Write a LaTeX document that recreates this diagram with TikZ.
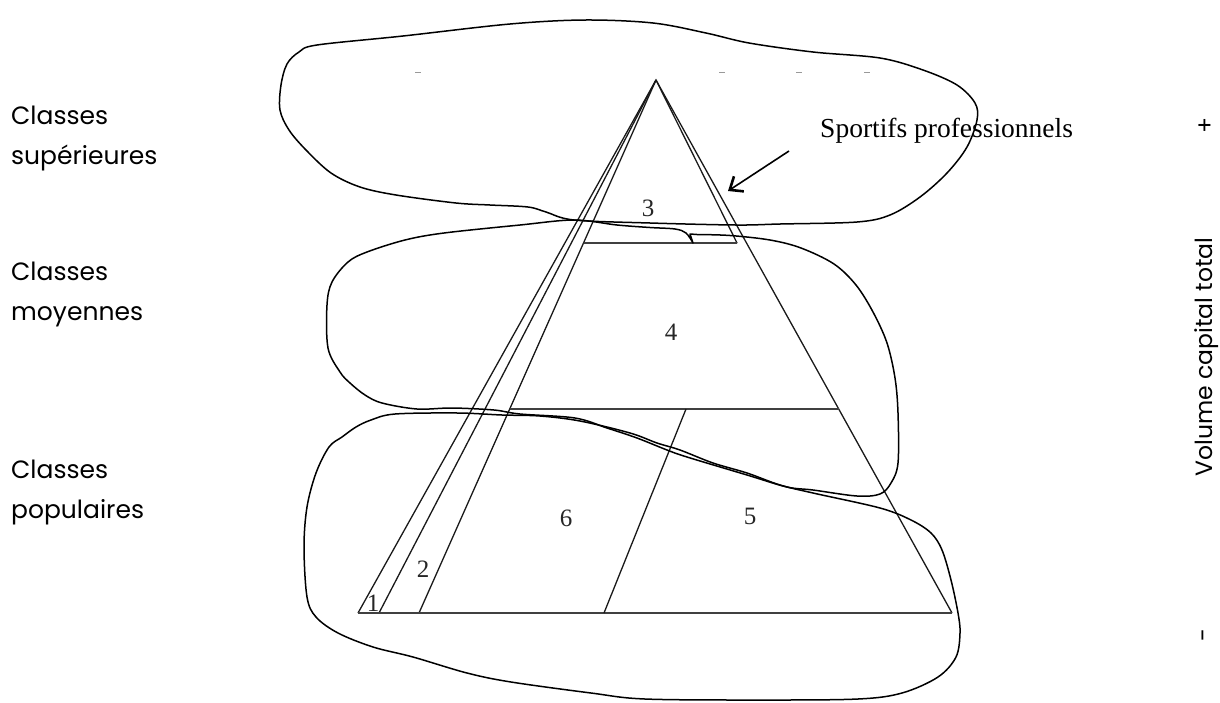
\documentclass[tikz,border=0pt]{standalone}
\usepackage{fontspec}
\setmainfont{Liberation Serif}
\newfontfamily\sidefont{Poppins}
\usetikzlibrary{arrows.meta,calc}

\begin{document}
\begin{tikzpicture}[x=1pt,y=-1pt,
  pyr/.style={draw=black!90, line width=1.3pt},
  shelf/.style={draw=black!75, line width=1.8pt},
  loopline/.style={draw=black, line width=1.5pt, line join=round},
  zone/.style={font=\fontsize{25}{25}\selectfont, text=black!85, inner sep=0pt},
  classlbl/.style={font=\sidefont\fontsize{25}{40}\selectfont, align=left, anchor=base west, inner sep=0pt},
  axislbl/.style={font=\sidefont\fontsize{23.5}{23.5}\selectfont, inner sep=0pt, rotate=90},
  ghost/.style={draw=black!40, line width=1pt},
  pointer/.style={-{Straight Barb[length=11pt,width=18pt,line width=2.6pt]}, line width=1.6pt},
]
\useasboundingbox (0,0) rectangle (1220,702);
\def\midy{243}
\def\lowy{409}
% --- pyramid ---
\coordinate (apex) at (656,80);
\coordinate (bl) at (358,613);
\coordinate (br) at (952,613);
\coordinate (b1) at (379,613);
\coordinate (b2) at (419,613);
\coordinate (cut) at (604,613);
\coordinate (in3) at (737,\midy);
\draw[pyr] (bl) -- (apex) -- (br);
\draw[pyr] (apex) -- (b1);
\draw[pyr] (apex) -- (b2);
\draw[pyr] (apex) -- (in3);
\draw[shelf] (bl) -- (br);
\draw[shelf] ($(apex)!{(\midy-80)/533}!(b2)$) -- (in3);
\draw[shelf] ($(apex)!{(\lowy-80)/533}!(b2)$) -- ($(apex)!{(\lowy-80)/533}!(br)$) coordinate (r4);
\draw[pyr] (cut) -- (686,\lowy);
% zone numbers
\node[zone] (z1) at (373,603) {1};
\node[zone] (z2) at (423,569) {2};
\node[zone] (z3) at (648,208) {3};
\node[zone] (z4) at (671,332) {4};
\node[zone] (z5) at (750,516) {5};
\node[zone] (z6) at (566,518) {6};
% --- leftover marks above the apex ---
\foreach \gx in {418,722,799,867} {
  \draw[ghost] (\gx-3,72.5) -- (\gx+3,72.5);
}
% --- hand drawn loops ---
\draw[loopline] plot[smooth cycle, tension=0.55] coordinates {
  (574,220) (546,212) (528,207) (490,205) (456,203) (396,195) (360,187)
  (331,173) (306,150) (289,130) (280,110) (281,85) (287,64) (299,52)
  (317,45) (403,36) (510,24) (585,20) (653,23) (706,33) (749,43) (813,52)
  (880,58) (923,70) (957,85) (975,103) (977,120) (967,147) (947,173)
  (920,197) (890,215) (857,222) (780,224) (736,225) (650,223)};
\draw[loopline] plot[smooth, tension=0.55] coordinates {
  (697,234.5) (730,235.5) (770,240) (801,248) (834,264) (856,285)
  (873,312) (887,343) (895,378) (898,413) (898,463) (891,483)
  (880,494) (857,496) (813,490) (787,487) (747,475) (687,457) (667,450)
  (637,438) (607,428) (575,418) (520,414) (494,410) (452,408) (417,409)
  (382,403) (365,395) (350,383) (340,372) (328,348) (327,305) (332,282)
  (348,262) (367,252) (405,240) (444,233) (520,225) (574,220) (617,225)
  (650,227.5) (675,229) (686,233) (693,243)} -- (690,234) -- cycle;
\draw[loopline] plot[smooth cycle, tension=0.55] coordinates {
  (371,420) (395,414) (458,413) (502,415) (540,416) (580,421) (630,433)
  (657,443) (680,450) (713,463) (747,473) (780,485) (813,493) (880,508)
  (911,520) (931,533) (942,550) (951,580) (958,613) (960,633) (956,657)
  (938,677) (902,693) (858,699) (760,700) (645,699) (591,693) (511,682)
  (467,673) (413,657) (373,647) (338,633) (316,617) (307,597) (304,547)
  (307,507) (316,473) (329,447) (342,437) (356,427)};
% --- label with pointer ---
\node[font=\fontsize{27.5}{27.5}\selectfont, anchor=west, inner sep=0pt] (sport) at (820,131) {Sportifs professionnels};
\coordinate (sptip) at (728,191);
\draw[pointer] ($(sport.west)+(-31,20)$) -- (sptip);
% --- class labels (anchor on last line) ---
\node[classlbl] (sup) at (11,164) {Classes\\supérieures};
\node[classlbl] (moy) at (11,320) {Classes\\moyennes};
\node[classlbl] (pop) at (11,518) {Classes\\populaires};
% --- axis on the right ---
\node[axislbl] (plus) at (1206,125) {+};
\node[axislbl] (vol) at (1207,357) {Volume capital total};
\node[axislbl] (minus) at (1207,635) {-};
\end{tikzpicture}
\end{document}
